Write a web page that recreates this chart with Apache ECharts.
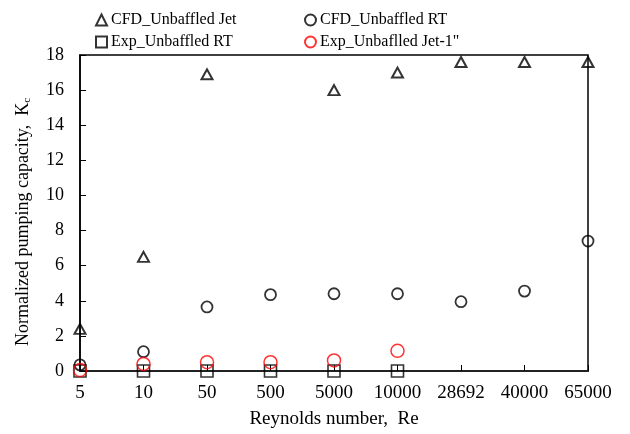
<!DOCTYPE html>
<html>
<head>
<meta charset="utf-8">
<script src="https://cdn.jsdelivr.net/npm/echarts@6/dist/echarts.min.js"></script>
<style>
  html, body { margin: 0; padding: 0; background: #fff; }
  #chart { width: 630px; height: 434px; }
</style>
</head>
<body>
<div id="chart"></div>
<script>
// Reynolds number categories along the x axis
const reynolds = ['5', '10', '50', '500', '5000', '10000', '28692', '40000', '65000'];

// Normalized pumping capacity Kc for each case (null = not measured)
const cfdJet = [2.4, 6.5, 16.9, null, 16.0, 17.0, 17.6, 17.6, 17.6];
const cfdRT  = [0.35, 1.1, 3.65, 4.35, 4.4, 4.4, 3.95, 4.55, 7.4];
const expRT  = [0, 0, 0, 0, 0, 0, null, null, null];
const expJet = [0.05, 0.4, 0.5, 0.5, 0.6, 1.15, null, null, null];

const seriesNames = ['CFD_Unbaffled Jet', 'CFD_Unbaffled RT', 'Exp_Unbaffled RT', 'Exp_Unbaflled Jet-1"'];

const serif = '"Liberation Serif", "Times New Roman", serif';
const chart = echarts.init(document.getElementById('chart'), null, { renderer: 'canvas' });

function legendAt(name, left, top) {
  return {
    data: [name], left: left, top: top,
    itemWidth: 11, itemHeight: 11, itemGap: 0, padding: 0,
    textStyle: { fontFamily: serif, fontSize: 16, color: '#000', padding: [0, 0, 0, -1] }
  };
}

function marker(name, data, symbol, size, color, width) {
  return {
    name: name, type: 'scatter', data: data,
    symbol: symbol, symbolSize: size,
    itemStyle: { color: 'rgba(0,0,0,0)', borderColor: color, borderWidth: width },
    emphasis: { disabled: true }
  };
}

chart.setOption({
  animation: false,
  backgroundColor: '#fff',
  legend: [
    legendAt(seriesNames[0], 95, 12),
    legendAt(seriesNames[1], 304, 12),
    legendAt(seriesNames[2], 95, 34),
    legendAt(seriesNames[3], 304, 34)
  ],
  grid: {
    left: 80, right: 42, top: 55, bottom: 61,
    show: true, borderColor: '#000', borderWidth: 1.5, backgroundColor: 'transparent'
  },
  xAxis: {
    type: 'category', data: reynolds, boundaryGap: false,
    name: 'Reynolds number,  Re', nameLocation: 'middle', nameGap: 39,
    nameTextStyle: { fontFamily: serif, fontSize: 19, color: '#000' },
    axisLine: { lineStyle: { color: '#222', width: 2 } },
    axisTick: { inside: true, length: 6, lineStyle: { color: '#000', width: 1 } },
    axisLabel: { fontFamily: serif, fontSize: 19, color: '#000', margin: 13 },
    splitLine: { show: false }
  },
  yAxis: {
    type: 'value', min: 0, max: 18, interval: 2,
    name: 'Normalized pumping capacity,  K{sub|c}', nameLocation: 'middle', nameGap: 47,
    nameTextStyle: {
      fontFamily: serif, fontSize: 18, color: '#000', padding: [0, 18, 0, 0],
      rich: { sub: { fontFamily: serif, fontSize: 11, color: '#000', padding: [9, 0, 0, 0] } }
    },
    axisLine: { show: true, lineStyle: { color: '#000', width: 1.5 } },
    axisTick: { show: true, inside: true, length: 6, lineStyle: { color: '#000', width: 1 } },
    axisLabel: { fontFamily: serif, fontSize: 18, color: '#000', margin: 16 },
    splitLine: { show: false }
  },
  series: [
    marker(seriesNames[0], cfdJet, 'triangle', [11, 10], '#000', 2),
    marker(seriesNames[1], cfdRT, 'circle', 11, '#000', 1.8),
    marker(seriesNames[2], expRT, 'rect', 12, '#000', 1.6),
    marker(seriesNames[3], expJet, 'circle', 13, '#ff0000', 1.5)
  ]
});
</script>
</body>
</html>
